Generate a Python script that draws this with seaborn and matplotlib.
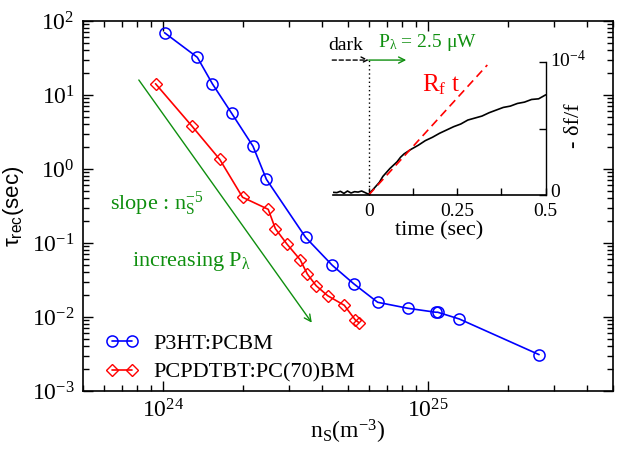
import numpy as np
import pandas as pd
import seaborn as sns
import matplotlib.pyplot as plt
from matplotlib.ticker import LogLocator, NullFormatter, FixedLocator
from matplotlib.transforms import ScaledTranslation

# main panel data: recovery time vs surface density
ns_p3ht = [1.015e24, 1.35e24, 1.54e24, 1.82e24, 2.19e24, 2.46e24, 3.46e24, 4.36e24,
           5.27e24, 6.47e24, 8.43e24, 1.07e25, 1.09e25, 1.315e25, 2.63e25]
tau_p3ht = [69.5, 32.3, 14.1, 5.65, 2.03, 0.726, 0.119, 0.050,
            0.0279, 0.0158, 0.0131, 0.0116, 0.0116, 0.0094, 0.0031]

ns_pcpdtbt = [9.39e23, 1.29e24, 1.64e24, 2.0e24, 2.50e24, 2.66e24, 2.94e24,
              3.30e24, 3.51e24, 3.79e24, 4.19e24, 4.84e24, 5.33e24, 5.50e24]
tau_pcpdtbt = [14.2, 3.78, 1.35, 0.415, 0.285, 0.156, 0.0969,
               0.0594, 0.0381, 0.0265, 0.0194, 0.0144, 0.0091, 0.0084]

# slope guide arrow (n^-5)
guide_ns = [8.12e23, 3.65e24]
guide_tau = [15.96, 0.00838]

# inset data: -df/f (units of 1e-4) vs time
t_inset = [-0.1, -0.09, -0.08, -0.07, -0.06, -0.05, -0.04, -0.03, -0.02, -0.01, 0.0,
           0.01, 0.02, 0.03, 0.04, 0.05, 0.06, 0.07, 0.08, 0.09, 0.10,
           0.12, 0.14, 0.16, 0.18, 0.20, 0.22, 0.24, 0.26, 0.28, 0.30,
           0.32, 0.34, 0.36, 0.38, 0.40, 0.42, 0.44, 0.46, 0.48, 0.50]
df_inset = [0.020, 0.018, 0.028, 0.012, 0.030, 0.015, 0.025, 0.022, 0.030, 0.018, 0.005,
            0.035, 0.065, 0.095, 0.140, 0.170, 0.200, 0.225, 0.250, 0.285, 0.310,
            0.345, 0.375, 0.410, 0.435, 0.465, 0.490, 0.515, 0.535, 0.565, 0.580,
            0.595, 0.620, 0.640, 0.660, 0.670, 0.690, 0.700, 0.720, 0.725, 0.755]
fit_t = [0.0, 0.335]
fit_df = [0.0, 0.98]

sns.set_style("ticks")
plt.rcParams["font.family"] = ["Liberation Serif", "DejaVu Serif"]
plt.rcParams["mathtext.fontset"] = "custom"
plt.rcParams["mathtext.rm"] = "Liberation Serif"
plt.rcParams["mathtext.it"] = "Liberation Serif:italic"
plt.rcParams["mathtext.sf"] = "Liberation Sans"
plt.rcParams["axes.linewidth"] = 1.2
for key in ["text.color", "axes.labelcolor", "xtick.color", "ytick.color", "axes.edgecolor"]:
    plt.rcParams[key] = "black"

GREEN = "#0f8f0f"

fig = plt.figure(figsize=(6.2, 4.49), dpi=100)
ax = fig.add_axes([0.1339, 0.1292, 0.8548, 0.824])

df = pd.DataFrame({
    "ns": ns_p3ht + ns_pcpdtbt,
    "tau": tau_p3ht + tau_pcpdtbt,
    "sample": ["P3HT:PCBM"] * len(ns_p3ht) + ["PCPDTBT:PC(70)BM"] * len(ns_pcpdtbt),
})
sns.lineplot(data=df[df["sample"] == "P3HT:PCBM"], x="ns", y="tau", ax=ax, sort=False,
             color="#0000ff", lw=1.2, marker="o", ms=8, mfc="none", mec="#0000ff",
             mew=1.1, label="P3HT:PCBM")
sns.lineplot(data=df[df["sample"] == "PCPDTBT:PC(70)BM"], x="ns", y="tau", ax=ax, sort=False,
             color="#ff0000", lw=1.2, marker="D", ms=6, mfc="none", mec="#ff0000",
             mew=1.0, label="PCPDTBT:PC(70)BM")

ax.set_xscale("log")
ax.set_yscale("log")
ax.set_xlim(5e23, 5e25)
ax.set_ylim(1e-3, 1e2)

ax.xaxis.set_minor_locator(LogLocator(base=10, subs=np.arange(2, 10)))
ax.yaxis.set_minor_locator(LogLocator(base=10, subs=np.arange(2, 10)))
ax.xaxis.set_minor_formatter(NullFormatter())
ax.yaxis.set_minor_formatter(NullFormatter())
ax.tick_params(which="both", direction="in", top=True, right=True, labelsize=17, width=1)
ax.tick_params(which="major", length=7, pad=6)
ax.tick_params(which="minor", length=4)

ax.set_xlabel(r"n$_{\mathrm{S}}$(m$^{-3}$)", fontsize=17, labelpad=-3)
ax.set_ylabel(r"τ$_{\mathsf{rec}}$(sec)", fontsize=16, family="Liberation Sans", labelpad=4)

ax.annotate("", xy=(guide_ns[1], guide_tau[1]), xytext=(guide_ns[0], guide_tau[0]),
            arrowprops=dict(arrowstyle="->", color=GREEN, lw=1.0,
                            shrinkA=0, shrinkB=0, mutation_scale=12))
ax.text(6.3e23, 0.34, r"slope : $\mathrm{n}_{\mathrm{S}}^{-5}$", color=GREEN,
        fontsize=16, va="center")
ax.text(7.63e23, 0.056, r"increasing P$_{\mathrm{λ}}$", color=GREEN,
        fontsize=16, va="center")

leg = ax.legend(loc="lower left", bbox_to_anchor=(0.012, -0.019), frameon=False,
                numpoints=2, handlelength=1.5, handletextpad=0.7,
                labelspacing=0.35, fontsize=16, borderpad=0.2)

# inset
ins = fig.add_axes([0.5376, 0.5657, 0.3426, 0.2955])
ins.patch.set_alpha(0)
sns.lineplot(x=t_inset, y=df_inset, ax=ins, color="black", lw=1.2, sort=False)
ins.plot(fit_t, fit_df, color="#ff0000", lw=1.2, ls=(0, (5, 3)))
ins.set_xlim(-0.1, 0.5)
ins.set_ylim(0, 1)
for s in ["top", "left"]:
    ins.spines[s].set_visible(False)
ins.spines["right"].set_linewidth(1.0)
ins.spines["bottom"].set_linewidth(1.2)
ins.yaxis.tick_right()
ins.set_xticks([0, 0.25, 0.5])
ins.set_xticklabels(["0", "0.25", "0.5"])
ins.xaxis.set_minor_locator(FixedLocator([0.125, 0.375]))
ins.set_yticks([0, 1])
ins.set_yticklabels(["0", r"10$^{-4}$"])
ins.yaxis.set_minor_locator(FixedLocator([0.5]))
ins.tick_params(which="both", direction="in", length=5, width=1, labelsize=14, pad=3)
ins.tick_params(axis="x", pad=6)
shift = ScaledTranslation(0, 3 / 72, fig.dpi_scale_trans)
for lab in ins.get_yticklabels():
    lab.set_transform(lab.get_transform() + shift)
ins.set_xlabel("time (sec)", fontsize=16, labelpad=1)
ins.set_ylabel("- δf/f", fontsize=16, rotation=90)
ins.yaxis.set_label_position("right")
ins.yaxis.set_label_coords(1.09, 0.52)

ins.plot([0, 0], [0, 1.03], color="black", lw=1, ls=(0, (1, 2)), clip_on=False)
ins.annotate("", xy=(0, 1.017), xytext=(-0.103, 1.017), annotation_clip=False,
             arrowprops=dict(arrowstyle="->", color="black", lw=1.0, ls=(0, (3, 2)),
                             shrinkA=0, shrinkB=0, mutation_scale=11))
ins.annotate("", xy=(0.106, 1.017), xytext=(0, 1.017), annotation_clip=False,
             arrowprops=dict(arrowstyle="->", color=GREEN, lw=1.0,
                             shrinkA=0, shrinkB=0, mutation_scale=11))
ins.text(-0.066, 1.13, "dark", fontsize=14, ha="center", va="center", clip_on=False)
ins.text(0.027, 1.15, r"P$_{\mathrm{λ}}$ = 2.5 μW", fontsize=14, color=GREEN,
         ha="left", va="center", clip_on=False)
ins.text(0.15, 0.83, r"R$_{\mathrm{f}}$ t", fontsize=18, color="#ff0000",
         ha="left", va="center")

fig.savefig("out.png", dpi=100)
